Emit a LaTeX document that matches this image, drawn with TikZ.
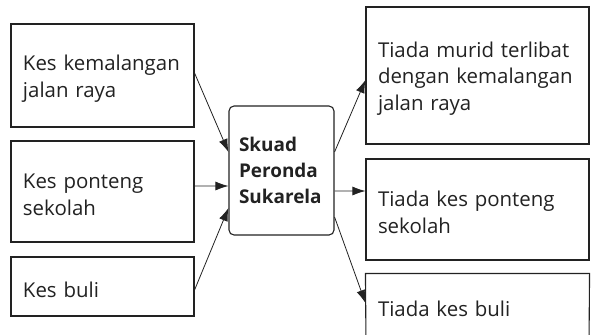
\documentclass[tikz,border=0pt]{standalone}
\usepackage{fontspec}
\setmainfont{Open Sans}
\usetikzlibrary{arrows.meta,calc}
\definecolor{ink}{HTML}{222222}
\hyphenpenalty=10000
\exhyphenpenalty=10000
\newcommand{\lowstrut}{\rule{0pt}{21.5bp}}
\begin{document}
\begin{tikzpicture}[x=1bp,y=-1bp,
  frame/.style={draw=ink,line width=1.1bp},
  box/.style={frame,rectangle,inner xsep=12bp,inner ysep=0bp,
    align=left,text=ink,font=\fontsize{20.5}{26.5}\selectfont,anchor=center},
  hub/.style={box,rounded corners=5bp,inner xsep=10bp,font=\bfseries\fontsize{19}{26}\selectfont},
  arr/.style={draw=ink,line width=0.8bp,-{Latex[length=13bp,width=9bp]}}]
\useasboundingbox (0,0) rectangle (593,334);
\node[box,minimum width=183bp,minimum height=103bp,text width=159bp] (L1) at (102.5,75.5) {\lowstrut Kes kemalangan\\jalan raya};
\node[box,minimum width=183bp,minimum height=101bp,text width=159bp] (L2) at (102.5,191.5) {\lowstrut Kes ponteng\\sekolah};
\node[box,minimum width=183bp,minimum height=59bp,text width=159bp] (L3) at (102.5,286.5) {\lowstrut Kes buli};
\node[hub,minimum width=105bp,minimum height=129bp,text width=85bp] (C) at (281.5,170.5) {Skuad\\Peronda\\Sukarela};
\node[box,minimum width=223bp,minimum height=137bp,text width=199bp] (R1) at (477.5,75.5) {\lowstrut Tiada murid terlibat\\dengan kemalangan\\jalan raya};
\node[box,minimum width=223bp,minimum height=101bp,text width=199bp] (R2) at (477.5,209.5) {\lowstrut Tiada kes ponteng\\sekolah};
\node[box,draw=none,minimum width=223bp,minimum height=64bp,text width=199bp] (R3) at (477.5,306) {\lowstrut Tiada kes buli};
\coordinate (R3bl) at (366,345);
\coordinate (R3br) at (589,345);
\draw[frame] (R3bl) -- (R3.north west) -- (R3.north east) -- (R3br);
\draw[arr] ([yshift=2.5bp]L1.east) -- ([yshift=18.5bp]C.west);
\draw[arr] ([yshift=5.5bp]L2.east) -- ([yshift=-15.5bp]C.west);
\draw[arr] ([yshift=-3.5bp]L3.east) -- ([yshift=-37.5bp]C.west);
\draw[arr] ([yshift=18.5bp]C.east) -- ([yshift=-4.5bp]R1.west);
\draw[arr] ([yshift=-20.5bp]C.east) -- ([yshift=18.5bp]R2.west);
\draw[arr] ([yshift=-46.5bp]C.east) -- ([yshift=3bp]R3.west);
\end{tikzpicture}
\end{document}
